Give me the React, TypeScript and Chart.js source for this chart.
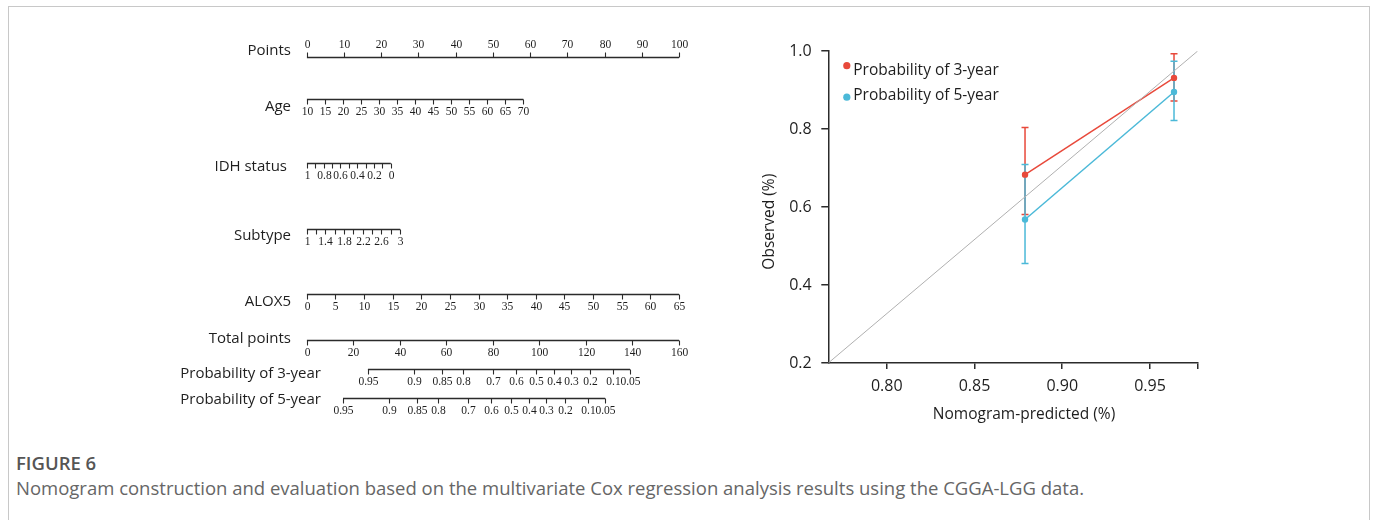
import React, { useEffect, useRef } from "react";
import { Chart, registerables } from "chart.js";

Chart.register(...registerables);

const SANS = '"Open Sans", "Noto Sans", sans-serif';
const SERIF = '"Liberation Serif", "DejaVu Serif", serif';
const AXIS = "#2b2b2b";
const TEXT = "#1e1e1e";
const RED = "#E8493B";
const CYAN = "#4BB9D8";

// ---------------- Nomogram data ----------------
const nomoRowLabels = [
  "Points",
  "Age",
  "IDH status",
  "Subtype",
  "ALOX5",
  "Total points",
  "Probability of 3-year",
  "Probability of 5-year",
];
const pointsTicks = [0, 10, 20, 30, 40, 50, 60, 70, 80, 90, 100];
const ageTicks = [10, 15, 20, 25, 30, 35, 40, 45, 50, 55, 60, 65, 70];
const idhTicks = [1, 0.9, 0.8, 0.7, 0.6, 0.5, 0.4, 0.3, 0.2, 0.1, 0];
const idhLabels = ["1", "", "0.8", "", "0.6", "", "0.4", "", "0.2", "", "0"];
const subtypeTicks = [1, 1.2, 1.4, 1.6, 1.8, 2, 2.2, 2.4, 2.6, 2.8, 3];
const subtypeLabels = ["1", "", "1.4", "", "1.8", "", "2.2", "", "2.6", "", "3"];
const alox5Ticks = [0, 5, 10, 15, 20, 25, 30, 35, 40, 45, 50, 55, 60, 65];
const totalPointsTicks = [0, 20, 40, 60, 80, 100, 120, 140, 160];
const survivalTicks = [0.95, 0.9, 0.85, 0.8, 0.7, 0.6, 0.5, 0.4, 0.3, 0.2, 0.1, 0.05];
const survivalLabels = ["0.95", "0.9", "0.85", "0.8", "0.7", "0.6", "0.5", "0.4", "0.3", "0.2", "0.1", "0.05"];

// model: points reached at the end of each variable's range
const agePointsMax = 58.2;
const idhPointsMax = 22.6;
const subtypePointsMax = 25.1;
const alox5PointsMax = 100;
const totalPointsMax = 160;
// total points where survival = 0.95, and total points per unit of log(-log S)
const totalAt095 = [26.3, 15.6]; // 3-year, 5-year
const survivalSlope = 27.7;

// ---------------- Calibration data ----------------
const predicted3 = [0.8788, 0.9637];
const observed3 = [0.683, 0.931];
const lower3 = [0.581, 0.872];
const upper3 = [0.804, 0.993];
const predicted5 = [0.8788, 0.9637];
const observed5 = [0.568, 0.895];
const lower5 = [0.455, 0.822];
const upper5 = [0.709, 0.974];
const calXTicks = [0.8, 0.85, 0.9, 0.95];
const calYTicks = [0.2, 0.4, 0.6, 0.8, 1.0];
const calXMin = 0.7667;
const calXMax = 0.9772;
const calYMin = 0.2;
const calYMax = 1.0;

// ---------------- Layout (not data) ----------------
const nomoRowY = [57.5, 99.5, 163.5, 229.5, 294.5, 340.5, 369.5, 398.5];
const nomoLabelRight = [291, 291, 287, 291, 291, 291, 321, 321];
const nomoLabelDy = [-7, 7, 3, 6, 7.5, -1.5, 4, 1];
const TICK_LEN = 5;
const TICK_LABEL_OFF = 12.5;
const LABEL_FONT = 15;
const CAL_FONT = 15.5;
const CAL_TICK_FONT = 16;

const lnln = (p: number) => Math.log(-Math.log(p));
const totalToPoints = (t: number) => (t / totalPointsMax) * 100;
const survivalToPoints = (k: number) => (p: number) =>
  totalToPoints(totalAt095[k] + survivalSlope * (lnln(p) - lnln(0.95)));

type Row = { ticks: number[]; labels: string[]; toPoints: (v: number) => number; up?: boolean };

const rows: Row[] = [
  { ticks: pointsTicks, labels: pointsTicks.map(String), toPoints: (v) => v, up: true },
  { ticks: ageTicks, labels: ageTicks.map(String), toPoints: (v) => ((v - 10) / 60) * agePointsMax },
  { ticks: idhTicks, labels: idhLabels, toPoints: (v) => (1 - v) * idhPointsMax },
  { ticks: subtypeTicks, labels: subtypeLabels, toPoints: (v) => ((v - 1) / 2) * subtypePointsMax },
  { ticks: alox5Ticks, labels: alox5Ticks.map(String), toPoints: (v) => (v / 65) * alox5PointsMax },
  { ticks: totalPointsTicks, labels: totalPointsTicks.map(String), toPoints: totalToPoints },
  { ticks: survivalTicks, labels: survivalLabels, toPoints: survivalToPoints(0) },
  { ticks: survivalTicks, labels: survivalLabels, toPoints: survivalToPoints(1) },
];

const nomogramPlugin = {
  id: "nomoTicks",
  afterDatasetsDraw(chart: any) {
    const { ctx, scales } = chart;
    const x = scales.x;
    const y = scales.y;
    ctx.save();
    rows.forEach((row, i) => {
      const yl = y.getPixelForValue(nomoRowY[i]);
      const dir = row.up ? -1 : 1;
      ctx.strokeStyle = AXIS;
      ctx.lineWidth = 1.1;
      ctx.fillStyle = TEXT;
      ctx.font = `11.5px ${SERIF}`;
      ctx.textAlign = "center";
      ctx.textBaseline = "middle";
      row.ticks.forEach((t, k) => {
        const px = Math.round(x.getPixelForValue(row.toPoints(t))) + 0.5;
        ctx.beginPath();
        ctx.moveTo(px, yl);
        ctx.lineTo(px, yl + dir * TICK_LEN);
        ctx.stroke();
        const lab = row.labels[k];
        if (lab) ctx.fillText(lab, px, yl + dir * TICK_LABEL_OFF);
      });
      ctx.font = `${LABEL_FONT}px ${SANS}`;
      ctx.textAlign = "right";
      ctx.fillText(nomoRowLabels[i], nomoLabelRight[i], yl + nomoLabelDy[i]);
    });
    ctx.restore();
  },
};

const errorBarPlugin = {
  id: "errorBars",
  beforeDatasetsDraw(chart: any) {
    const { ctx, scales } = chart;
    const x = scales.x;
    const y = scales.y;
    const series = [
      { px: predicted3, lo: lower3, hi: upper3, color: RED },
      { px: predicted5, lo: lower5, hi: upper5, color: CYAN },
    ];
    ctx.save();
    ctx.lineWidth = 1.5;
    series.forEach((s) => {
      ctx.strokeStyle = s.color;
      s.px.forEach((pv, i) => {
        const xp = x.getPixelForValue(pv);
        const y1 = y.getPixelForValue(s.lo[i]);
        const y2 = y.getPixelForValue(s.hi[i]);
        ctx.beginPath();
        ctx.moveTo(xp, y1);
        ctx.lineTo(xp, y2);
        ctx.moveTo(xp - 3.5, y1);
        ctx.lineTo(xp + 3.5, y1);
        ctx.moveTo(xp - 3.5, y2);
        ctx.lineTo(xp + 3.5, y2);
        ctx.stroke();
      });
    });
    ctx.restore();
  },
  afterDraw(chart: any) {
    const { ctx, chartArea } = chart;
    ctx.save();
    // legend
    const items = [
      { text: "Probability of 3-year", color: RED, dotDy: -5.3 },
      { text: "Probability of 5-year", color: CYAN, dotDy: 1.7 },
    ];
    items.forEach((it, i) => {
      const ty = chartArea.top + 20 + i * 24.5;
      ctx.fillStyle = it.color;
      ctx.beginPath();
      ctx.arc(chartArea.left + 18.5, ty + it.dotDy, 3.6, 0, Math.PI * 2);
      ctx.fill();
      ctx.fillStyle = TEXT;
      ctx.font = `${CAL_FONT}px ${SANS}`;
      ctx.textAlign = "left";
      ctx.textBaseline = "middle";
      ctx.fillText(it.text, chartArea.left + 25, ty);
    });
    // axis titles
    ctx.fillStyle = TEXT;
    ctx.font = `${CAL_FONT}px ${SANS}`;
    ctx.textAlign = "center";
    ctx.textBaseline = "middle";
    ctx.fillText("Nomogram-predicted (%)", (chartArea.left + chartArea.right) / 2 + 11, chartArea.bottom + 52);
    ctx.translate(chartArea.left - 59, (chartArea.top + chartArea.bottom) / 2 + 14.7);
    ctx.rotate(-Math.PI / 2);
    ctx.fillText("Observed (%)", 0, 0);
    ctx.restore();
  },
};

export default function App() {
  const nomoRef = useRef<HTMLCanvasElement>(null);
  const calRef = useRef<HTMLCanvasElement>(null);

  useEffect(() => {
    const nomo = new Chart(nomoRef.current as HTMLCanvasElement, {
      type: "scatter",
      data: {
        datasets: rows.map((row, i) => ({
          data: [
            { x: row.toPoints(row.ticks[0]), y: nomoRowY[i] },
            { x: row.toPoints(row.ticks[row.ticks.length - 1]), y: nomoRowY[i] },
          ],
          showLine: true,
          borderColor: AXIS,
          borderWidth: 1.3,
          pointRadius: 0,
        })),
      },
      options: {
        animation: false,
        responsive: false,
        layout: { padding: { left: 306.7, right: 41, top: 0, bottom: 0 } },
        plugins: { legend: { display: false }, tooltip: { enabled: false } },
        scales: {
          x: { type: "linear", min: 0, max: 100, display: false },
          y: { type: "linear", min: 0, max: 430, reverse: true, display: false },
        },
      },
      plugins: [nomogramPlugin],
    } as any);

    const cal = new Chart(calRef.current as HTMLCanvasElement, {
      type: "scatter",
      data: {
        datasets: [
          {
            data: [
              { x: calXMin, y: calYMin },
              { x: calXMax, y: calYMax },
            ],
            showLine: true,
            borderColor: "#b0b0b0",
            borderWidth: 1,
            pointRadius: 0,
          },
          {
            label: "Probability of 3-year",
            data: predicted3.map((p, i) => ({ x: p, y: observed3[i] })),
            showLine: true,
            borderColor: RED,
            backgroundColor: RED,
            borderWidth: 1.5,
            pointRadius: 3.2,
            pointBorderWidth: 0,
          },
          {
            label: "Probability of 5-year",
            data: predicted5.map((p, i) => ({ x: p, y: observed5[i] })),
            showLine: true,
            borderColor: CYAN,
            backgroundColor: CYAN,
            borderWidth: 1.5,
            pointRadius: 3.2,
            pointBorderWidth: 0,
          },
        ],
      },
      options: {
        animation: false,
        responsive: false,
        layout: { padding: { left: 0, right: 22.3, top: 51, bottom: 7 } },
        plugins: { legend: { display: false }, tooltip: { enabled: false } },
        scales: {
          x: {
            type: "linear",
            min: calXMin,
            max: calXMax,
            afterBuildTicks: (s: any) => {
              s.ticks = [...calXTicks, calXMax].map((v) => ({ value: v }));
            },
            afterFit: (s: any) => {
              s.height = 70;
            },
            ticks: {
              callback: (v: any) => (v === calXMax ? "" : Number(v).toFixed(2)),
              font: { family: SANS, size: CAL_TICK_FONT },
              color: TEXT,
              padding: 8.1,
              autoSkip: false,
              maxRotation: 0,
            },
            grid: { drawOnChartArea: false, tickLength: 6, color: AXIS, lineWidth: 1.5 },
            border: { color: AXIS, width: 1.5 },
          },
          y: {
            type: "linear",
            min: calYMin,
            max: calYMax,
            afterBuildTicks: (s: any) => {
              s.ticks = calYTicks.map((v) => ({ value: v }));
            },
            afterFit: (s: any) => {
              s.width = 88.3;
            },
            ticks: {
              callback: (v: any) => Number(v).toFixed(1),
              font: { family: SANS, size: CAL_TICK_FONT },
              color: TEXT,
              padding: 9.6,
              autoSkip: false,
            },
            grid: { drawOnChartArea: false, tickLength: 7, color: AXIS, lineWidth: 1.5 },
            border: { color: AXIS, width: 1.5 },
          },
        },
      },
      plugins: [errorBarPlugin],
    } as any);

    return () => {
      nomo.destroy();
      cal.destroy();
    };
  }, []);

  return (
    <div
      style={{
        position: "absolute",
        left: 0,
        top: 0,
        width: 1375,
        height: 520,
        background: "#fff",
        overflow: "hidden",
      }}
    >
      <div
        style={{
          position: "absolute",
          left: 8,
          top: 6,
          width: 1362,
          height: 530,
          border: "1px solid #c8c8c8",
          borderBottom: "none",
          boxSizing: "border-box",
        }}
      />
      <canvas ref={nomoRef} width={720} height={430} style={{ position: "absolute", left: 0, top: 0 }} />
      <canvas ref={calRef} width={480} height={440} style={{ position: "absolute", left: 740, top: 0 }} />
      <div
        style={{
          position: "absolute",
          left: 16,
          top: 451,
          fontFamily: SANS,
          fontSize: 18.5,
          lineHeight: "24px",
          fontWeight: 600,
          color: "#555",
          whiteSpace: "nowrap",
        }}
      >
        FIGURE 6
      </div>
      <div
        style={{
          position: "absolute",
          left: 16,
          top: 476,
          fontFamily: SANS,
          fontSize: 18.5,
          lineHeight: "24px",
          color: "#666",
          whiteSpace: "nowrap",
        }}
      >
        Nomogram construction and evaluation based on the multivariate Cox regression analysis results using the CGGA-LGG data.
      </div>
    </div>
  );
}
